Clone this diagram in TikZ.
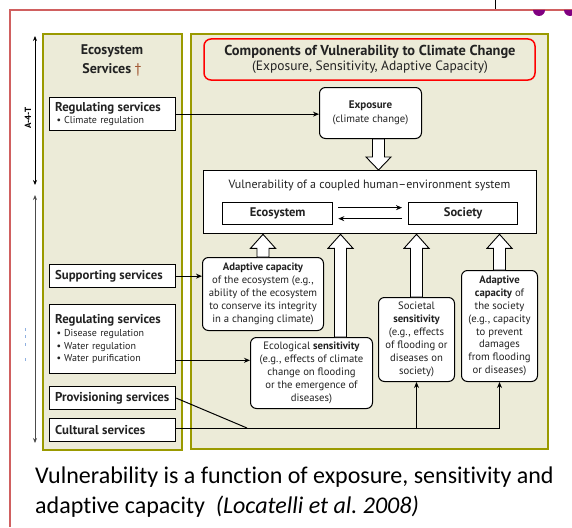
\documentclass[tikz,border=0pt]{standalone}
\usepackage{fontspec}
\setmainfont{PT Sans}
\newfontfamily\capfont[Ligatures=NoCommon]{Carlito}
\usetikzlibrary{arrows.meta,calc}
\definecolor{panelfill}{HTML}{ECEBD8}
\definecolor{olivec}{HTML}{9A9A00}
\definecolor{pinkred}{HTML}{D06060}
\definecolor{daggerc}{HTML}{A0522D}
\definecolor{purp}{HTML}{800080}
\definecolor{txt}{HTML}{222222}
\definecolor{dotblue}{HTML}{8FB0E0}

\tikzset{
  panel/.style={draw=olivec, line width=1.8pt, fill=panelfill},
  svcbox/.style={draw=black, line width=1.3pt, fill=white, anchor=north west,
    inner xsep=5.5pt, inner ysep=0pt, text width=115pt, align=left, text=txt},
  rbox/.style={draw=black, line width=1pt, fill=white, rounded corners=6pt,
    anchor=north west, inner sep=0pt, align=center, text=txt,
    font=\fontsize{10.7}{12.9}\selectfont},
  sqbox/.style={draw=black, line width=1.3pt, fill=white, anchor=north west, inner sep=0pt},
  hollow/.style={draw=black, line width=0.9pt, fill=white, line join=miter},
  conn/.style={draw=black, line width=1.1pt, -{Stealth[length=6pt,width=5pt]}},
  plain/.style={draw=black, line width=1.3pt},
}
\newcommand\svchead{\fontsize{12.8}{13}\selectfont\bfseries}
\newcommand\svcitem{\fontsize{10}{13}\selectfont}

\newcommand\hollowUp[2]{\draw[hollow] let \p1=#1, \p2=#2 in
  (\x1-6pt,\y1) -- (\x1-6pt,\y2-14pt) -- (\x1-12.5pt,\y2-14pt) -- (\x1,\y2)
  -- (\x1+12.5pt,\y2-14pt) -- (\x1+6pt,\y2-14pt) -- (\x1+6pt,\y1) -- cycle;}
\newcommand\hollowDown[2]{\draw[hollow] let \p1=#1, \p2=#2 in
  (\x1-6pt,\y1) -- (\x1-6pt,\y2+13pt) -- (\x1-12.5pt,\y2+13pt) -- (\x1,\y2)
  -- (\x1+12.5pt,\y2+13pt) -- (\x1+6pt,\y2+13pt) -- (\x1+6pt,\y1) -- cycle;}

\begin{document}
\begin{tikzpicture}[x=1pt,y=-1pt]
\useasboundingbox (0,0) rectangle (572,527);
\fill[white] (0,0) rectangle (572,527);

% outer frame
\draw[pinkred, line width=2pt] (10,527) -- (10,10) -- (572,10);
\draw[black, line width=1pt] (495,0) -- (495,9);
\fill[purp] (533,10) arc[start angle=180, end angle=0, radius=6] -- cycle;
\fill[purp] (564,10) arc[start angle=180, end angle=0, radius=6] -- cycle;

% panels
\draw[panel] (43,34) rectangle (182,450);
\draw[panel] (191,34) rectangle (548,449);

% left side double arrows
\draw[line width=0.8pt, {Stealth[length=5pt,width=4pt]}-{Stealth[length=5pt,width=4pt]}] (35,36) -- (35,185);
\draw[line width=0.9pt, black!70, {Stealth[length=5pt,width=4pt]}-{Stealth[length=5pt,width=4pt]}] (35,195) -- (35,443);
\node[rotate=90, font=\fontsize{9}{9}\selectfont\bfseries, inner sep=0pt] (axlbl) at (28,118) {A-4-T};
\foreach \yy in {329,336,344,359} \fill[dotblue] (24.5,\yy-1.5) rectangle (25.5,\yy+1.5);

% headers
\node[align=center, font=\fontsize{14}{19}\selectfont\bfseries, text=txt] (eshead) at (112,60.5)
  {Ecosystem\\ Services {\color{daggerc}\mdseries\dag}};
\draw[draw=red, line width=1.5pt, fill=panelfill, rounded corners=7pt] (204,39) rectangle (535,80);
\node[font=\fontsize{14.4}{16}\selectfont\bfseries, text=txt] (title) at (370,51.5)
  {Components of Vulnerability to Climate Change};
\node[font=\fontsize{13.5}{16}\selectfont, text=txt] (subtitle) at (370,67.5)
  {(Exposure, Sensitivity, Adaptive Capacity)};

% exposure
\node[rbox, minimum width=102pt, minimum height=51pt, font=\fontsize{11}{13.5}\selectfont] (expo) at (319,87)
  {\textbf{Exposure}\\ {\fontsize{10.7}{13.5}\selectfont(climate change)}};

% vulnerability box
\node[sqbox, minimum width=333pt, minimum height=63pt] (vuln) at (203,170) {};
\node[font=\fontsize{12}{13}\selectfont, text=txt] (vtitle) at (369.5,185) {Vulnerability of a coupled human\textendash environment system};
\node[sqbox, minimum width=110pt, minimum height=22pt, font=\fontsize{12.5}{13}\selectfont\bfseries, text=txt] (eco) at (222,202) {Ecosystem};
\node[sqbox, minimum width=109pt, minimum height=22pt, font=\fontsize{12.5}{13}\selectfont\bfseries, text=txt] (soc) at (408,202) {Society};
\draw[conn] ($(eco.east)+(5,-6)$) -- ($(soc.west)+(-6,-6)$);
\draw[conn] ($(soc.west)+(-6,5)$) -- ($(eco.east)+(5,5)$);

% bottom boxes
\node[rbox, minimum width=121pt, minimum height=73pt] (adaptE) at (202,257)
  {\textbf{Adaptive capacity}\\ of the ecosystem (e.g.,\\ ability of the ecosystem\\ to conserve its integrity\\ in a changing climate)};
\node[rbox, minimum width=122pt, minimum height=71pt] (ecoS) at (250,337)
  {Ecological \textbf{sensitivity}\\ (e.g., effects of climate\\ change on flooding\\ or the emergence of\\ diseases)};
\node[rbox, minimum width=76pt, minimum height=84pt] (socS) at (378,297)
  {Societal\\ \textbf{sensitivity}\\ (e.g., effects\\ of flooding or\\ diseases on\\ society)};
\node[rbox, minimum width=76pt, minimum height=111pt] (adaptS) at (461,270)
  {\textbf{Adaptive}\\ \textbf{capacity} of\\ the society\\ (e.g., capacity\\ to prevent\\ damages\\ from flooding\\ or diseases)};

% hollow arrows
\hollowDown{($(expo.south)+(8,0)$)}{(vuln.north)}
\hollowUp{(adaptE.north)}{(vuln.south)}
\hollowUp{($(ecoS.north)+(29,0)$)}{(vuln.south)}
\hollowUp{(socS.north)}{(vuln.south)}
\hollowUp{(adaptS.north)}{(vuln.south)}

% service boxes
\node[svcbox, minimum height=33pt] (reg1) at (49,97)
  {{\svchead Regulating services}\\
   {\svcitem\hspace{1.5pt}•\hspace{3pt}Climate regulation}};
\node[svcbox, minimum height=23pt] (supp) at (49,264) {{\svchead Supporting services}};
\node[svcbox, minimum height=69pt] (reg2) at (49,304)
  {{\svchead Regulating services}\\
   {\svcitem\hspace{1.5pt}•\hspace{3pt}Disease regulation\\ \hspace*{1.5pt}•\hspace{3pt}Water regulation\\ \hspace*{1.5pt}•\hspace{3pt}Water purification}};
\node[svcbox, minimum height=23pt] (prov) at (49,386) {{\svchead Provisioning services}};
\node[svcbox, minimum height=23pt] (cult) at (49,418) {{\svchead Cultural services}};

% connectors
\draw[conn] (reg1.east) -- (reg1.east -| expo.west);
\draw[conn] (supp.east) -- (supp.east -| adaptE.west);
\coordinate (r2out) at ($(reg2.south east)+(0,-14)$);
\draw[conn] (r2out) -- (r2out -| ecoS.west);
\coordinate (join) at (247,428);
\draw[line width=1pt] (prov.east) -- (join);
\coordinate (c1) at ($(cult.east)+(0,-1.5)$);
\coordinate (turnS) at (socS.south |- c1);
\coordinate (turnA) at (adaptS.south |- c1);
\draw[plain] (c1) -- (turnA);
\draw[conn] (turnS) -- (socS.south);
\draw[conn] (turnA) -- (adaptS.south);

% caption
\node[anchor=base west, inner sep=0pt, font=\capfont\fontsize{24}{30}\selectfont, text=black] (cap1) at (35,483)
  {Vulnerability is a function of exposure, sensitivity and};
\node[anchor=base west, inner sep=0pt, font=\capfont\fontsize{24}{30}\selectfont, text=black] (cap2) at (35,513)
  {adaptive capacity\ \ \textit{(Locatelli et al.\ 2008)}};
\end{tikzpicture}
\end{document}
